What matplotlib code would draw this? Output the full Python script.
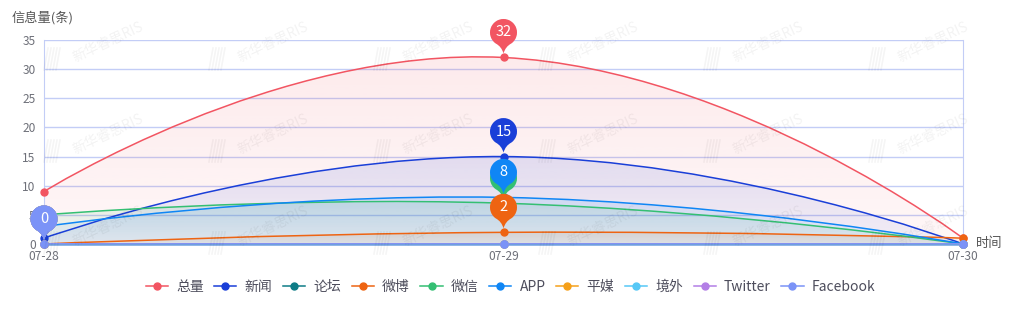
import numpy as np
import matplotlib
matplotlib.use("Agg")
import matplotlib.pyplot as plt
from matplotlib.path import Path
from matplotlib.patches import PathPatch
from matplotlib.lines import Line2D
from matplotlib.transforms import Affine2D, ScaledTranslation

plt.rcParams['font.family'] = ['Noto Sans CJK SC', 'DejaVu Sans']

dates = ["07-28", "07-29", "07-30"]
names = ["总量", "新闻", "论坛", "微博", "微信", "APP", "平媒", "境外", "Twitter", "Facebook"]
colors = ["#f25562", "#1a3fd8", "#0e7c86", "#ee6412", "#34bf73",
          "#0f86f5", "#f5a01a", "#56c8f6", "#b37fe6", "#7b93f7"]

total = [9, 32, 1]
news = [1, 15, 0]
forum = [0, 0, 0]
weibo = [0, 2, 1]
wechat = [5, 7, 0]
app = [3, 8, 0]
print_media = [0, 0, 0]
overseas = [0, 0, 0]
twitter = [0, 0, 0]
facebook = [0, 0, 0]
series = [total, news, forum, weibo, wechat, app, print_media, overseas, twitter, facebook]

# order in which the max pins are stacked (last on top)
pin_order = [0, 1, 4, 5, 3, 2, 6, 7, 8, 9]

W, H = 1021, 324
fig = plt.figure(figsize=(W / 100, H / 100), dpi=100)
ax = fig.add_axes([44 / W, 1 - 244 / H, (963 - 44) / W, (244 - 40) / H])
ax.set_facecolor("none")
x = np.arange(len(dates))
ax.set_xlim(0, len(dates) - 1)
ax.set_ylim(0, 35)
ax.set_yticks(range(0, 36, 5))
ax.set_xticks(x)
ax.set_xticklabels(dates)
ax.tick_params(length=0, labelsize=8.6, labelcolor="#6e7079", pad=4)
ax.tick_params(axis="y", pad=6)
ax.grid(axis="y", color="#c3cdf6", lw=1)
ax.set_axisbelow(True)
for side in ["left", "right"]:
    ax.spines[side].set_color("#c3cdf6")
ax.spines["top"].set_visible(False)
ax.spines["bottom"].set_color("#6f9fe0")
ax.spines["bottom"].set_linewidth(1.8)


def smooth_path(vals, smooth=0.5, close=False):
    # cubic bezier through the points, same scheme as echarts smooth lines (pixel space)
    p = ax.transData.transform(np.column_stack([x, vals]))
    n = len(p)
    verts = [p[0]]
    codes = [Path.MOVETO]
    cp0 = p[0]
    for i in range(1, n):
        cur = p[i]
        if i < n - 1:
            prev, nxt = p[i - 1], p[i + 1]
            v = nxt - prev
            l0 = np.hypot(*(cur - prev))
            l1 = np.hypot(*(nxt - cur))
            r = l1 / (l0 + l1)
            cp1 = cur - v * smooth * (1 - r)
            nxt_cp0 = cur + v * smooth * r
        else:
            cp1 = cur
            nxt_cp0 = cur
        verts += [cp0, cp1, cur]
        codes += [Path.CURVE4] * 3
        cp0 = nxt_cp0
    verts = ax.transData.inverted().transform(np.array(verts))
    verts = list(map(tuple, verts))
    if close:
        verts += [(x[-1], 0), (x[0], 0), (x[0], 0)]
        codes += [Path.LINETO, Path.LINETO, Path.CLOSEPOLY]
    return Path(verts, codes)


for k, (vals, c) in enumerate(zip(series, colors)):
    top = max(vals)
    if top > 0:
        rgb = matplotlib.colors.to_rgb(c)
        grad = np.zeros((64, 1, 4))
        grad[..., :3] = rgb
        grad[:, 0, 3] = np.linspace(0.12, 0.05, 64)
        im = ax.imshow(grad, extent=(x[0], x[-1], 0, top), aspect="auto",
                       interpolation="bilinear", zorder=1 + k * 0.01)
        clip = PathPatch(smooth_path(vals, close=True), transform=ax.transData,
                         facecolor="none", edgecolor="none")
        ax.add_patch(clip)
        im.set_clip_path(clip)
    ax.add_patch(PathPatch(smooth_path(vals), facecolor="none", edgecolor=c,
                           lw=1.1, zorder=3 + k * 0.01))
    ax.plot(x, vals, ls="none", marker="o", ms=5, color=c, zorder=4 + k * 0.01,
            clip_on=False)

ax.set_xlim(0, len(dates) - 1)
ax.set_ylim(0, 35)

# pin markers for the maximum of every series
r = 13.5
c_y = 25
arc = Path.arc(-55, 235)
arc_v = arc.vertices * r + [0, c_y]
pin_verts = [(0, 4), (2.0, 11), tuple(arc_v[0])] + [tuple(v) for v in arc_v[1:]] \
    + [(-2.0, 11), (0, 4), (0, 4)]
pin_codes = [Path.MOVETO, Path.CURVE3, Path.CURVE3] + list(arc.codes[1:]) \
    + [Path.CURVE3, Path.CURVE3, Path.CLOSEPOLY]
pin_path = Path(pin_verts, pin_codes)

for rank, k in enumerate(pin_order):
    vals = series[k]
    top = max(vals)
    i = vals.index(top)
    tr = ScaledTranslation(x[i], top, ax.transData)
    ax.add_patch(PathPatch(pin_path, transform=Affine2D() + tr, facecolor=colors[k],
                           edgecolor="none", zorder=10 + rank * 0.1, clip_on=False))
    ax.text(0, c_y, str(top), transform=Affine2D() + tr, ha="center", va="center",
            color="white", fontsize=10.5, zorder=10.05 + rank * 0.1, clip_on=False)

fig.text(12 / W, 1 - 18 / H, "信息量(条)", fontsize=9.5, color="#555555", va="center")
fig.text(976 / W, 1 - 244 / H, "时间", fontsize=9.5, color="#555555", va="center")

handles = [Line2D([], [], color=c, lw=1.1, marker="o", ms=5) for c in colors]
fig.legend(handles, names, loc="center", bbox_to_anchor=(0.5, 1 - 287 / H), ncol=10,
           frameon=False, fontsize=10, handlelength=1.6, handletextpad=0.6,
           columnspacing=0.75, labelcolor="#4d4d5c")

# faint watermark grid
for wy in [60, 152, 244]:
    for col in range(6):
        wx = 50 + col * 165
        fig.text((wx + 20) / W, 1 - (wy - 18) / H, "新华睿思RIS", rotation=25,
                 fontsize=10, color="#000000", alpha=0.05, va="center", zorder=20)
        for s in range(5):
            fig.add_artist(Line2D([(wx - 6 + s * 3) / W, (wx - 2 + s * 3) / W],
                                  [1 - (wy + 10) / H, 1 - (wy - 12) / H],
                                  color="#000000", alpha=0.04, lw=1.2, zorder=20))

fig.savefig("out.png", dpi=100)
